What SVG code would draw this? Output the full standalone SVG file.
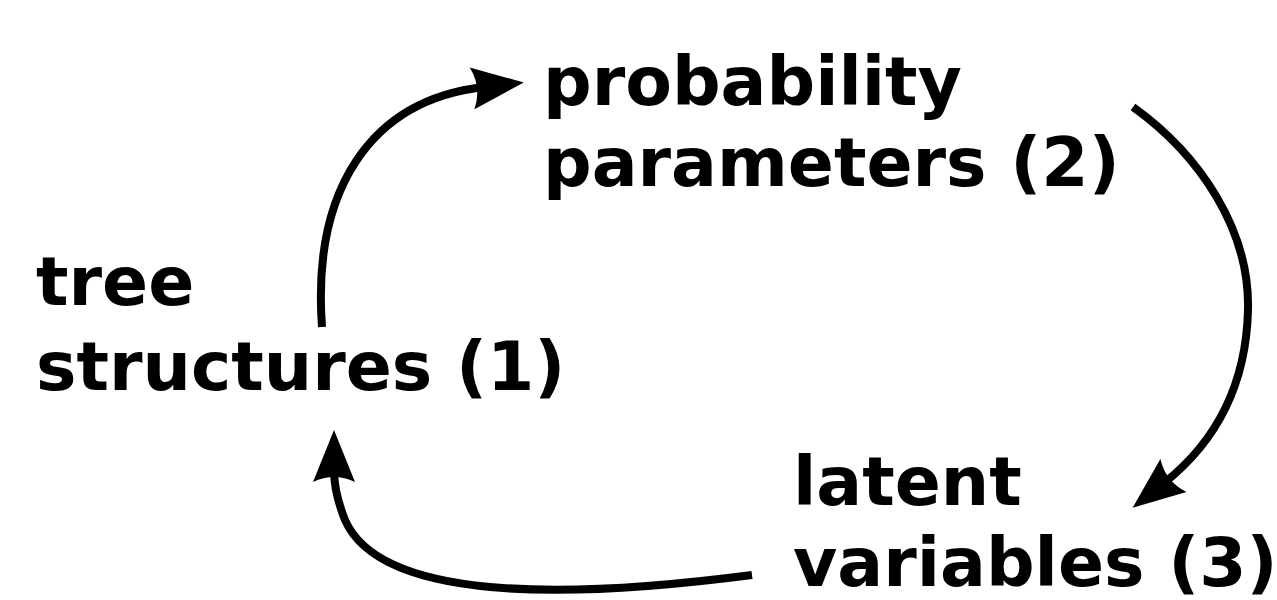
<svg xmlns="http://www.w3.org/2000/svg" width="1277" height="600" viewBox="0 0 1277 600">
<style>
.lbl{font-family:"DejaVu Sans",sans-serif;font-weight:bold;font-size:68px;fill:#000}
.edge{fill:none;stroke:#000;stroke-width:8;marker-end:url(#ah)}
</style>
<defs>
<marker id="ah" markerUnits="userSpaceOnUse" viewBox="-15 -25 60 50" markerWidth="60" markerHeight="50" refX="0" refY="0" orient="auto" overflow="visible">
<path d="M-12,-21 L40,0 L-12,21 Q-2,0 -12,-21 Z" fill="#000"/>
</marker>
</defs>
<rect width="1277" height="600" fill="#fff"/>
<g id="n1"><text class="lbl" x="36" y="305">tree</text><text class="lbl" x="36" y="390">structures (1)</text></g>
<g id="n2"><text class="lbl" x="543" y="105">probability</text><text class="lbl" x="543" y="186">parameters (2)</text></g>
<g id="n3"><text class="lbl" x="793" y="505">latent</text><text class="lbl" x="793" y="586">variables (3)</text></g>
<g id="edges">
<path class="edge" d="M322,327 C312,190 370,100 484,87"/>
<path class="edge" d="M1133,107 C1200,155 1250,230 1248,310 S1212,445 1164,483"/>
<path class="edge" d="M752,575 C560,600 380,600 345,520 C337,500 334,485 334,470"/>
</g>
</svg>
